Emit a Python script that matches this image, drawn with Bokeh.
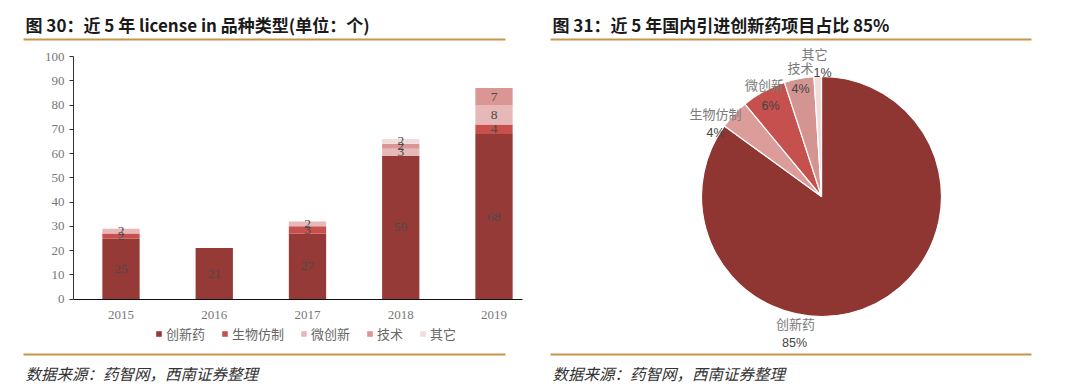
import math
from bokeh.plotting import figure
from bokeh.models import (Range1d, Label, LabelSet, ColumnDataSource, BoxAnnotation, FixedTicker)
from bokeh.layouts import row
from bokeh.embed import file_html
from bokeh.resources import INLINE
from bokeh.core.properties import value

# ---------------- data ----------------
years = ["2015", "2016", "2017", "2018", "2019"]
series = ["创新药", "生物仿制", "微创新", "技术", "其它"]
innov = [25, 21, 27, 59, 68]
biosim = [2, 0, 3, 0, 4]
micro = [2, 0, 2, 3, 8]
tech = [0, 0, 0, 2, 7]
other = [0, 0, 0, 2, 0]

pie_labels = ["创新药", "生物仿制", "微创新", "技术", "其它"]
pie_pct = [85, 4, 6, 4, 1]

title_left = "图 30：近 5 年 license in 品种类型(单位：个)"
title_right = "图 31：近 5 年国内引进创新药项目占比 85%"
source_text = "数据来源：药智网，西南证券整理"

# ---------------- styles ----------------
bar_colors = ["#963a38", "#c8504c", "#e6b9b8", "#d99694", "#f2dcdb"]
pie_colors = ["#8f3633", "#dc9c9a", "#c5504d", "#d49492", "#f2dcdb"]
gold = "#c8964b"
CJK = "Noto Sans CJK SC"
SERIF = "Liberation Serif"
SANS = "Liberation Sans"

W, H = 540, 389

# ================= left: stacked bars =================
X0, DXP = 120.5, 93.25     # px of first category centre, px per category
Y0, DYP = 298.5, 2.425     # px of value 0, px per unit


def DX(px):
    return (px - X0) / DXP


def DY(py):
    return (Y0 - py) / DYP


p1 = figure(width=W, height=H, x_range=Range1d(DX(0), DX(W)), y_range=Range1d(DY(H), DY(0)),
            output_backend="svg", toolbar_location=None, min_border=0,
            outline_line_color=None)
p1.xgrid.visible = False
p1.ygrid.visible = False

xs = list(range(len(years)))
src = ColumnDataSource(dict(x=xs, s0=innov, s1=biosim, s2=micro, s3=tech, s4=other))
p1.vbar_stack(["s0", "s1", "s2", "s3", "s4"], x="x", width=0.4, color=bar_colors,
              line_color=None, source=src, legend_label=series)

# value labels
lx, ly, lt = [], [], []
for i in xs:
    base = 0
    for vals in (innov, biosim, micro, tech, other):
        v = vals[i]
        if v > 0:
            lx.append(i)
            ly.append(base + v / 2)
            lt.append(str(v))
        base += v
p1.add_layout(LabelSet(x="x", y="y", text="t", source=ColumnDataSource(dict(x=lx, y=ly, t=lt)),
                       text_align="center", text_baseline="middle",
                       text_font=value(SERIF), text_font_size="13.5px", text_color="#4a4a4a"))

# axes (placed at fixed data locations)
p1.yaxis.fixed_location = DX(73)
p1.yaxis.bounds = (0, 100)
p1.yaxis.ticker = FixedTicker(ticks=list(range(0, 101, 10)))
p1.yaxis.minor_tick_line_color = None
p1.yaxis.major_tick_out = 4
p1.yaxis.major_tick_in = 0
p1.yaxis.axis_line_color = "#333333"
p1.yaxis.major_tick_line_color = "#333333"
p1.yaxis.major_label_standoff = 5
p1.yaxis.major_label_text_font = SERIF
p1.yaxis.major_label_text_font_size = "13px"
p1.yaxis.major_label_text_color = "#777777"

p1.xaxis.fixed_location = 0
p1.xaxis.bounds = (DX(73), DX(522))
p1.xaxis.ticker = FixedTicker(ticks=xs)
p1.xaxis.major_label_overrides = {i: y for i, y in enumerate(years)}
p1.xaxis.minor_tick_line_color = None
p1.xaxis.major_tick_line_color = None
p1.xaxis.major_tick_out = 0
p1.xaxis.major_tick_in = 0
p1.xaxis.axis_line_color = "#111111"
p1.xaxis.major_label_standoff = 12
p1.xaxis.major_label_text_font = SERIF
p1.xaxis.major_label_text_font_size = "13px"
p1.xaxis.major_label_text_color = "#777777"

leg = p1.legend[0]
leg.orientation = "horizontal"
leg.location = (155, H - 343)
leg.border_line_color = None
leg.background_fill_alpha = 0
leg.padding = 0
leg.margin = 0
leg.spacing = 16
leg.label_standoff = 4
leg.glyph_width = 7
leg.glyph_height = 7
leg.label_height = 14
leg.label_text_font = CJK
leg.label_text_font_size = "13px"
leg.label_text_color = "#666666"

# title, rules, source
p1.add_layout(Label(x=DX(25), y=DY(24), text=title_left,
                    text_baseline="middle", text_font=CJK, text_font_style="bold",
                    text_font_size="17px", text_color="#1a1a1a"))
for ty, by in ((38, 40), (353, 355)):
    p1.add_layout(BoxAnnotation(left=DX(23), right=DX(505), top=DY(ty), bottom=DY(by),
                                fill_color=gold, fill_alpha=1, line_color=None))
p1.add_layout(Label(x=DX(25), y=DY(372), text=source_text,
                    text_baseline="middle", text_font=CJK, text_font_style="italic",
                    text_font_size="15.5px", text_color="#333333"))

# ================= right: pie =================
OX = 540


def RX(px):
    return px - OX


def RY(py):
    return H - py


p2 = figure(width=W, height=H, x_range=Range1d(0, W), y_range=Range1d(0, H),
            output_backend="svg", toolbar_location=None, min_border=0,
            x_axis_location=None, y_axis_location=None, outline_line_color=None)
p2.xgrid.visible = False
p2.ygrid.visible = False

total = float(sum(pie_pct))
starts, ends = [], []
cum = 0.0
for v in pie_pct:
    starts.append(math.pi / 2 - 2 * math.pi * cum / total)
    cum += v
    ends.append(math.pi / 2 - 2 * math.pi * cum / total)
p2.wedge(x=RX(821), y=RY(196), radius=120, start_angle="s", end_angle="e", direction="clock",
         fill_color="c", line_color="white", line_width=1.2,
         source=ColumnDataSource(dict(s=starts, e=ends, c=pie_colors)))

# label anchors (layout, page px) for name and percentage
name_pos = [(795, 323), (715, 113), (764, 84), (800, 67), (814, 53)]
pct_pos = [(794, 342), (715, 132), (770, 105), (800, 88), (822, 72)]
for lab, v, npos, ppos in zip(pie_labels, pie_pct, name_pos, pct_pos):
    p2.add_layout(Label(x=RX(npos[0]), y=RY(npos[1]), text=lab, text_align="center",
                        text_baseline="middle", text_font=CJK, text_font_size="13px",
                        text_color="#7a7a7a"))
    p2.add_layout(Label(x=RX(ppos[0]), y=RY(ppos[1]), text=f"{v}%", text_align="center",
                        text_baseline="middle", text_font=SANS, text_font_size="12.5px",
                        text_color="#444444"))

p2.add_layout(Label(x=RX(552), y=RY(24), text=title_right, text_baseline="middle",
                    text_font=CJK, text_font_style="bold", text_font_size="17px",
                    text_color="#1a1a1a"))
for ty, by in ((38, 40), (353, 355)):
    p2.add_layout(BoxAnnotation(left=RX(550), right=RX(1031), top=RY(ty), bottom=RY(by),
                                fill_color=gold, fill_alpha=1, line_color=None))
p2.add_layout(Label(x=RX(552), y=RY(372), text=source_text, text_baseline="middle",
                    text_font=CJK, text_font_style="italic", text_font_size="15.5px",
                    text_color="#333333"))

layout = row(p1, p2, spacing=0)
open("out.html", "w").write(file_html(layout, INLINE))
